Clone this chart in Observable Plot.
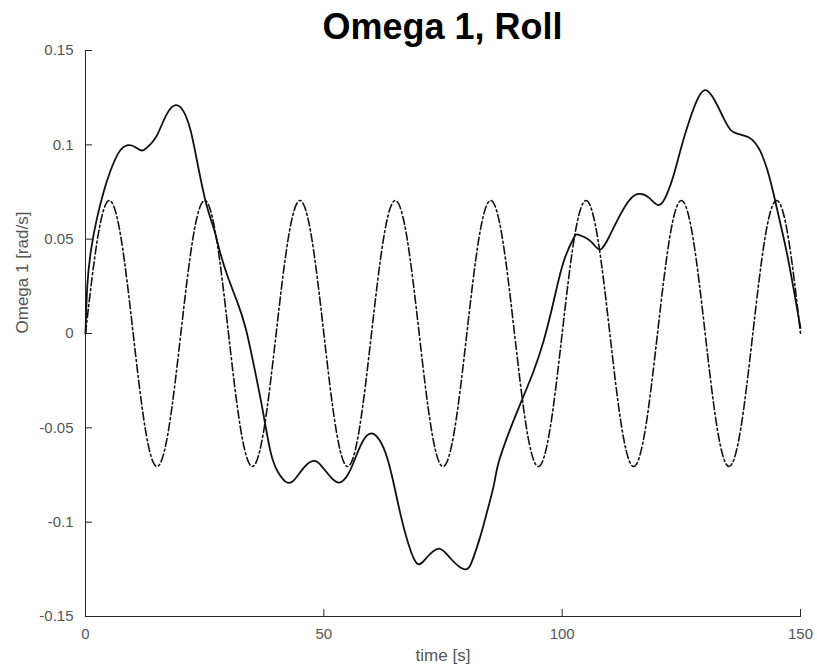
<!DOCTYPE html>
<html><head><meta charset="utf-8">
<script src="https://cdn.jsdelivr.net/npm/d3@7"></script>
<script src="https://cdn.jsdelivr.net/npm/@observablehq/plot@0.6"></script>
<style>
body{margin:0;background:#fff;font-family:"Liberation Sans",Arial,Helvetica,sans-serif}
#title{height:44px;line-height:53px;font-size:36px;font-weight:bold;text-align:center;padding-left:85px;padding-right:17px;width:715px;color:#000;white-space:nowrap}
</style></head><body>
<div id="title">Omega 1, Roll</div>
<div id="chart"></div>
<script>
const titleText = "Omega 1, Roll";
const xLabel = "time [s]";
const yLabel = "Omega 1 [rad/s]";
const xTicks = [0, 50, 100, 150];
const yTicks = [-0.15, -0.1, -0.05, 0, 0.05, 0.1, 0.15];

// solid response
const solidT = [0,0.4,1.2,2.4,3.8,5.2,7,8.7,10.3,11.9,13.5,15,17,18.9,20.5,21.9,23.2,25.2,26.9,28,29.7,31.8,33.6,35.3,37.1,38.8,40.4,42.3,44,46,47.9,49.3,51.4,53.3,55,56.3,58.2,60.1,61.8,63.3,64.7,66.1,67.8,69.6,71.5,74.1,76.5,79.5,81.2,82.9,84.3,85.7,86.7,89.2,91.6,94,96.1,98.2,100.3,102.4,103.5,106,108,110,112.2,114.2,116.1,118.2,120.3,122,123.4,124.8,126.2,128,129.9,131.9,133.9,135.3,136.7,139.1,140.5,141.6,143,144.4,145.8,147.2,148.6,150];
const solidY = [0,0.026,0.045,0.061,0.075,0.086,0.096,0.0997,0.099,0.097,0.1,0.105,0.116,0.121,0.118,0.109,0.094,0.07,0.0558,0.0452,0.0311,0.017,0.0028,-0.0166,-0.0396,-0.0625,-0.0735,-0.079,-0.077,-0.0705,-0.0675,-0.0696,-0.076,-0.079,-0.075,-0.068,-0.057,-0.053,-0.057,-0.066,-0.08,-0.096,-0.112,-0.122,-0.119,-0.114,-0.119,-0.125,-0.12,-0.107,-0.094,-0.08,-0.068,-0.05,-0.035,-0.02,-0.004,0.017,0.038,0.0505,0.0523,0.0488,0.0445,0.052,0.063,0.071,0.074,0.072,0.068,0.074,0.084,0.097,0.109,0.122,0.129,0.124,0.114,0.108,0.106,0.104,0.101,0.0965,0.087,0.0735,0.058,0.042,0.023,0.003];

// dash-dot reference signal
const refT = [0,2.5,5,7.5,10,12.5,15,17.5,20,22.5,25,27.5,30,32.5,35,37.5,40,42.5,45,47.5,50,52.5,55,57.5,60,62.5,65,67.5,70,72.5,75,77.5,80,82.5,85,87.5,90,92.5,95,97.5,100,102.5,105,107.5,110,112.5,115,117.5,120,122.5,125,127.5,130,132.5,135,137.5,140,142.5,145,147.5,150];
const refY = [0,0.0499,0.0705,0.0499,0,-0.0499,-0.0705,-0.0499,
              0,0.0499,0.0705,0.0499,0,-0.0499,-0.0705,-0.0499,
              0,0.0499,0.0705,0.0499,0,-0.0499,-0.0705,-0.0499,
              0,0.0499,0.0705,0.0499,0,-0.0499,-0.0705,-0.0499,
              0,0.0499,0.0705,0.0499,0,-0.0499,-0.0705,-0.0499,
              0,0.0499,0.0705,0.0499,0,-0.0499,-0.0705,-0.0499,
              0,0.0499,0.0705,0.0499,0,-0.0499,-0.0705,-0.0499,
              0,0.0499,0.0705,0.0499,0];

const solid = solidT.map((t, i) => ({t, v: solidY[i]}));
const ref = refT.map((t, i) => ({t, v: refY[i]}));

const axisColor = "#262626";
const textColor = "#555";

const plot = Plot.plot({
  width: 817, height: 626,
  marginTop: 6, marginBottom: 54, marginLeft: 85, marginRight: 17,
  style: {fontFamily: "'Liberation Sans', Arial, sans-serif", fontSize: "15px", color: textColor, background: "#fff", overflow: "visible"},
  x: {domain: [0, 150]},
  y: {domain: [-0.15, 0.15]},
  marks: [
    Plot.frame({anchor: "left", stroke: axisColor}),
    Plot.frame({anchor: "bottom", stroke: axisColor}),
    Plot.tickY(yTicks, {y: d => d, insetRight: 708, stroke: axisColor}),
    Plot.tickX(xTicks, {x: d => d, insetTop: 559, stroke: axisColor}),
    Plot.axisY(yTicks, {tickSize: 0, tickPadding: 12, tickFormat: d => String(d), label: null, fill: textColor}),
    Plot.axisX(xTicks, {tickSize: 0, tickPadding: 12, tickFormat: d => String(d), label: null, fill: textColor}),
    Plot.text([yLabel], {frameAnchor: "left", dx: -63, rotate: -90, fontSize: 17, fill: textColor}),
    Plot.text([xLabel], {frameAnchor: "bottom", dy: 44, fontSize: 17, fill: textColor}),
    Plot.line(ref, {x: "t", y: "v", curve: "natural", stroke: "#111", strokeWidth: 1.6, strokeDasharray: "8,3,2,3"}),
    Plot.line(solid, {x: "t", y: "v", curve: "natural", stroke: "#111", strokeWidth: 1.8})
  ]
});
document.getElementById("chart").appendChild(plot);
document.getElementById("title").textContent = titleText;
</script>
</body></html>
